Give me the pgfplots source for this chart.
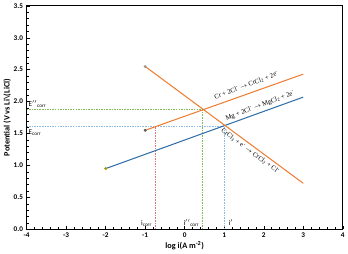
\documentclass[border=0pt]{standalone}
\usepackage{pgfplots}
\pgfplotsset{compat=1.18}
\usepackage{fontspec}
\setmainfont{Carlito}
\newfontfamily\serif{Liberation Serif}
\definecolor{lorange}{HTML}{ED7D31}
\definecolor{lblue}{HTML}{2E6DA8}
\definecolor{dgreen}{HTML}{7DBB55}
\definecolor{dblue}{HTML}{8FB9E0}
\definecolor{dred}{HTML}{E0707A}
\newcommand{\minus}{\textsuperscript{-}}
\begin{document}
\begin{tikzpicture}
\begin{axis}[
  scale only axis,
  width=307pt, height=217pt,
  xmin=-4, xmax=4, ymin=0, ymax=3.5,
  xtick={-4,-3,-2,-1,0,1,2,3,4},
  ytick={0,0.5,1,1.5,2,2.5,3,3.5},
  minor x tick num=4, minor y tick num=4,
  tick align=inside,
  major tick length=3pt, minor tick length=2pt,
  tick pos=left,
  axis line style={black, line width=0.9pt},
  tick style={black, line width=0.4pt},
  /pgf/number format/assume math mode=true,
  yticklabel style={/pgf/number format/.cd, fixed, fixed zerofill, precision=1},
  ticklabel style={font=\fontsize{7}{8}\selectfont\bfseries},
  xlabel={log i(A m\textsuperscript{-2})},
  ylabel={Potential (V vs Li\textbackslash(LiCl)},
  label style={font=\fontsize{8}{9}\selectfont\bfseries},
  xlabel style={yshift=3pt},
  ylabel style={yshift=-4pt},
  clip=false,
]
% dashed guide lines
\addplot[dgreen, line width=0.6pt, dash pattern=on 1.5pt off 1pt] coordinates {(-4,1.885) (0.45,1.885)};
\addplot[dgreen, line width=0.6pt, dash pattern=on 1.5pt off 1pt] coordinates {(0.45,0) (0.45,1.885)};
\addplot[dblue, line width=0.6pt, dash pattern=on 1.5pt off 1pt] coordinates {(-4,1.61) (1,1.61)};
\addplot[dblue, line width=0.6pt, dash pattern=on 1.5pt off 1pt] coordinates {(1,0) (1,1.61)};
\addplot[dred, line width=0.6pt, dash pattern=on 1.5pt off 1pt] coordinates {(-0.75,0) (-0.75,1.61)};
% main lines
\addplot[lblue, line width=1pt] coordinates {(-2,0.95) (3,2.07)};
\addplot[lorange, line width=1pt] coordinates {(-1,1.55) (3,2.43)};
\addplot[lorange, line width=1pt] coordinates {(-1,2.55) (3,0.72)};
% markers
\addplot[only marks, mark=*, mark size=1.2pt, color=gray!80] coordinates {(-1,2.55)};
\addplot[only marks, mark=*, mark size=1.2pt, color=black!65] coordinates {(-1,1.55)};
\addplot[only marks, mark=*, mark size=1.2pt, color=olive!80!yellow] coordinates {(-2,0.95)};
% labels
\node[anchor=south west, inner sep=1pt, font=\fontsize{7}{8}\selectfont] at (axis cs:-3.98,1.885) {E$''$\textsubscript{corr}};
\node[anchor=north west, inner sep=1pt, font=\fontsize{7}{8}\selectfont] at (axis cs:-3.98,1.57) {E\textsubscript{corr}};
\node[anchor=south east, inner sep=1pt, font=\fontsize{7}{8}\selectfont] at (axis cs:-0.8,0.02) {i\textsubscript{corr}};
\node[anchor=south east, inner sep=1pt, font=\fontsize{7}{8}\selectfont] at (axis cs:0.4,0.02) {i$''$\textsubscript{corr}};
\node[anchor=south west, inner sep=1pt, font=\fontsize{7}{8}\selectfont] at (axis cs:1.08,0.04) {i$'$};
\node[rotate=21, font=\serif\fontsize{6.5}{7}\selectfont, anchor=south, inner sep=1pt] at (axis cs:1.6,2.19) {Cr + 2Cl\minus{} $\rightarrow$ CrCl\textsubscript{2} + 2e\minus};
\node[rotate=21, font=\serif\fontsize{6.5}{7}\selectfont, anchor=south, inner sep=1pt] at (axis cs:1.95,1.87) {Mg + 2Cl\minus{} $\rightarrow$ MgCl\textsubscript{2} + 2e\minus};
\node[rotate=-36.5, font=\serif\fontsize{6.5}{7}\selectfont, anchor=north, inner sep=1pt] at (axis cs:1.72,1.27) {CrCl\textsubscript{3} + e\minus{} $\rightarrow$ CrCl\textsubscript{2} + Cl\minus};
\end{axis}
\end{tikzpicture}
\end{document}
